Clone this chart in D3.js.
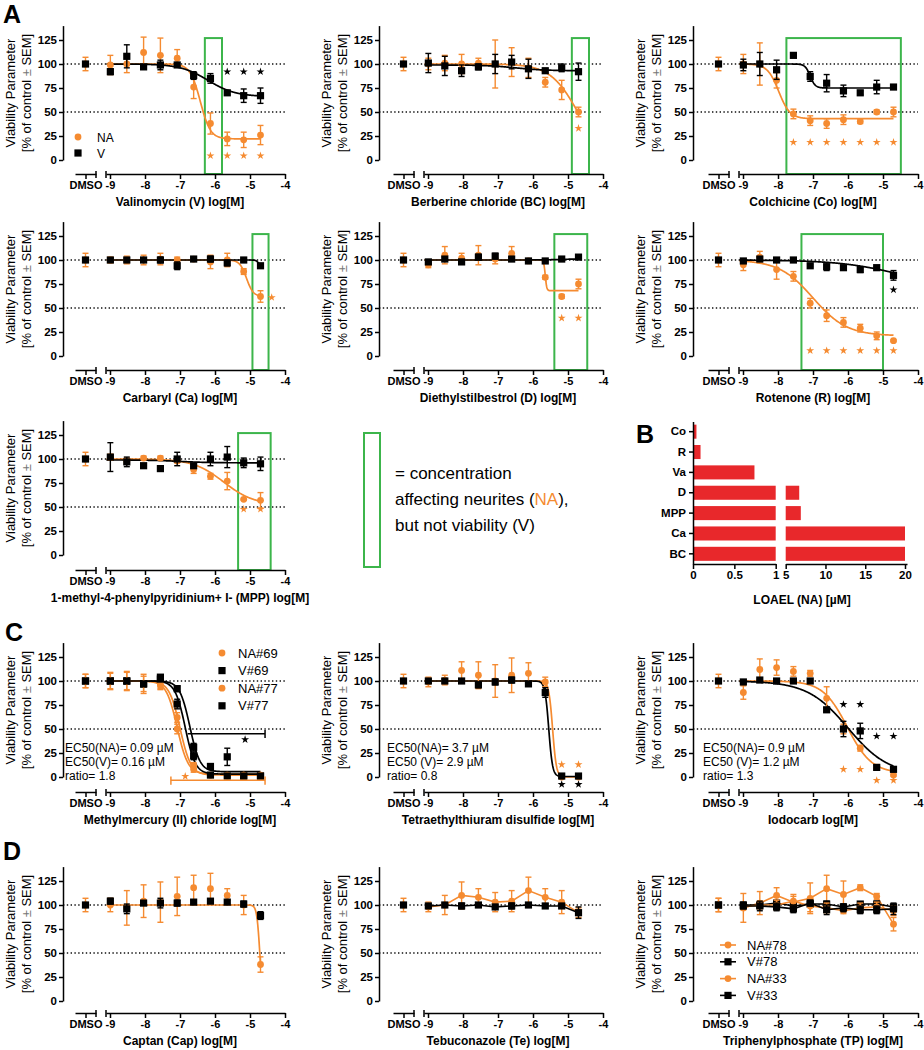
<!DOCTYPE html>
<html>
<head>
<meta charset="utf-8">
<script src="https://cdn.jsdelivr.net/npm/d3@7"></script>
<style>
  body { margin: 0; background: #fff; }
  svg { display: block; font-family: "Liberation Sans", Arial, Helvetica, sans-serif; }
</style>
</head>
<body>
<svg id="chart" width="924" height="1050"></svg>
<script>
const orange = "#f58b31", green = "#3cb54b", red = "#e8282b";

// log[M] of the ten test concentrations (3-fold steps down from 20 µM)
const concLog = [-8.99, -8.52, -8.04, -7.56, -7.08, -6.61, -6.13, -5.65, -5.18, -4.70];
const xTicks = [-9, -8, -7, -6, -5, -4];
const yTicks = [0, 25, 50, 75, 100, 125];

// fit parameters are [top, bottom, logEC50, hill]
// --- A: valinomycin
const vaNA = [99, 100, 112, 109, 106, 76, 38, 22, 21, 26];
const vaNAerr = [10, 9, 16, 18, 9, 12, 11, 7, 8, 10];
const vaV = [92, 108, 97, 99, 99, 88, 85, 70, 67, 67];
const vaVerr = [3, 12, 2, 5, 2, 4, 5, 2, 7, 8];
const vaFitNA = [100, 22, -6.42, 3], vaFitV = [100, 66, -6.2, 1.1];
const vaStarNA = [-6.13, -5.65, -5.18, -4.70], vaStarV = [-5.65, -5.18, -4.70];
const vaBox = [-6.29, -5.8];

// --- A: berberine chloride
const bcNA = [100, 101, 100, 101, 100, 102, 96, 81, 73, 50];
const bcNAerr = [6, 8, 10, 5, 25, 15, 10, 5, 10, 5];
const bcV = [101, 98, 93, 97, 100, 102, 95, 93, 96, 92];
const bcVerr = [10, 10, 6, 3, 10, 7, 10, 2, 4, 9];
const bcFitNA = [100, 0, -4.72, 1.1], bcFitV = [99, 93, -6.5, 1];
const bcStarNA = [-4.70];
const bcBox = [-4.89, -4.4];

// --- A: colchicine
const coNA = [100, 100, 83, 48, 41, 38, 42, 40, 50, 50];
const coNAerr = [10, 22, 8, 5, 5, 5, 5, 2, 2, 5];
const coV = [99, 100, 94, 109, 87, 80, 72, 70, 76, 76];
const coVerr = [6, 12, 10, 2, 5, 9, 6, 2, 7, 2];
const coFitNA = [100, 43, -7.98, 2.7], coFitV = [100, 75, -7.08, 6];
const coStarNA = [-7.56, -7.08, -6.61, -6.13, -5.65, -5.18, -4.70];
const coBox = [-7.76, -4.49];

// --- A: carbaryl
const caNA = [100, 100, 100, 101, 100, 101, 98, 100, 88, 62];
const caNAerr = [3, 4, 5, 6, 3, 2, 7, 7, 3, 6];
const caV = [100, 100, 100, 100, 94, 101, 101, 97, 100, 94];
const caVerr = [2, 2, 2, 3, 4, 2, 3, 3, 1, 2];
const caFitNA = [100, 62, -5.1, 4.5], caFitV = [100, 94, -4.76, 12];
const caStarNA = [-4.38];
const caBox = [-4.93, -4.47];

// --- A: diethylstilbestrol
const dNA = [95, 105, 102, 105, 101, 107, 99, 82, 62, 75];
const dNAerr = [3, 9, 5, 10, 5, 7, 2, 2, 2, 5];
const dV = [98, 101, 98, 103, 104, 101, 99, 99, 101, 103];
const dVerr = [2, 2, 2, 3, 3, 2, 1, 1, 1, 1];
const dFitNA = [100, 68, -5.65, 20], dFitV = [100, 101, -5.3, 2];
const dStarNA = [-5.18, -4.70];
const dBox = [-5.39, -4.45];

// --- A: rotenone
const rNA = [95, 103, 90, 83, 55, 42, 35, 29, 21, 16];
const rNAerr = [6, 6, 10, 5, 5, 6, 5, 4, 4, 1];
const rV = [99, 101, 100, 100, 94, 93, 92, 90, 92, 84];
const rVerr = [1, 2, 2, 1, 1, 4, 1, 3, 1, 5];
const rFitNA = [100, 21, -7.0, 0.9], rFitV = [100, 70, -4.5, 0.5];
const rStarNA = [-7.08, -6.61, -6.13, -5.65, -5.18, -4.70], rStarV = [-4.70];
const rBox = [-7.33, -5.0];

// --- A: MPP+
const mppNA = [102, 98, 101, 101, 98, 89, 82, 77, 58, 57];
const mppNAerr = [3, 3, 2, 2, 2, 4, 3, 9, 1, 8];
const mppV = [102, 97, 93, 90, 100, 93, 100, 102, 96, 95];
const mppVerr = [15, 5, 1, 2, 7, 1, 7, 11, 5, 7];
const mppFitNA = [100, 52, -5.75, 1], mppFitV = [99, 96, -7, 1];
const mppStarNA = [-5.18, -4.70];
const mppBox = [-5.34, -4.41];

// --- B: LOAEL (NA)
const loaelNames = ["Co", "R", "Va", "D", "MPP", "Ca", "BC"];
const loaelValues = [0.03, 0.08, 0.74, 6.7, 6.9, 20, 20];

// --- C: methylmercury(II) chloride
const mhNA69 = [100, 100, 97, 97, 62, 12, 2, 1, 2, 2];
const mhNA69err = [9, 10, 10, 5, 5, 3, 1, 1, 1, 1];
const mhV69 = [100, 100, 97, 104, 92, 31, 11, 21, 1, 1];
const mhV69err = [3, 3, 3, 2, 3, 4, 2, 9, 1, 1];
const mhNA77 = [100, 100, 97, 95, 50, 8, 2, 2, 2, 2];
const mhNA77err = [8, 9, 8, 4, 5, 3, 1, 1, 1, 1];
const mhV77 = [100, 100, 97, 102, 76, 22, 2, 1, 1, 1];
const mhV77err = [2, 2, 2, 2, 5, 4, 1, 1, 1, 1];
const mhFitNA69 = [100, 2, -7.0, 2.8], mhFitNA77 = [100, 3, -7.08, 2.8];
const mhFitV69 = [100, 5.5, -6.72, 3], mhFitV77 = [100, 3, -6.85, 3];

// --- C: tetraethylthiuram disulfide
const teNA = [99, 101, 111, 106, 100, 106, 108, 99, 0, 0];
const teNAerr = [5, 5, 9, 14, 17, 18, 11, 5, 1, 1];
const teV = [100, 100, 100, 96, 99, 101, 97, 88, 1, 1];
const teVerr = [2, 2, 1, 3, 3, 3, 2, 5, 1, 1];
const teFitNA = [100, 0, -5.44, 8], teFitV = [100, 0.5, -5.55, 8];
const teStar = [-5.18, -4.70];

// --- C: iodocarb
const ioNA = [88, 112, 114, 110, 108, 82, 50, 30, 10, 2];
const ioNAerr = [7, 11, 8, 5, 3, 12, 5, 3, 3, 1];
const ioV = [99, 101, 100, 100, 100, 70, 50, 48, 10, 8];
const ioVerr = [1, 1, 1, 1, 2, 2, 8, 8, 2, 2];
const ioFitNA = [100, 4, -6.02, 1.25], ioFitV = [100, 2, -6.0, 0.75];
const ioStarA = [-6.13, -5.65], ioStarB = [-5.18, -4.70];

// --- D: captan
const capNA = [100, 97, 104, 103, 109, 118, 117, 110, 100, 38];
const capNAerr = [7, 18, 17, 21, 20, 13, 16, 7, 10, 8];
const capV = [104, 96, 102, 102, 102, 103, 104, 103, 101, 89];
const capVerr = [3, 5, 2, 5, 3, 2, 2, 2, 3, 4];
const capFitNA = [100, 0, -4.72, 10];

// --- D: tebuconazole
const tebNA = [98, 100, 110, 108, 103, 104, 115, 108, 103, 92];
const tebNAerr = [5, 10, 14, 9, 10, 11, 14, 9, 12, 5];
const tebV = [99, 100, 99, 100, 98, 99, 100, 99, 99, 92];
const tebVerr = [2, 2, 3, 2, 2, 3, 2, 2, 2, 6];

// --- D: triphenylphosphate
const tpNA78 = [97, 102, 110, 103, 107, 117, 111, 118, 109, 80];
const tpNA78err = [15, 12, 8, 8, 16, 14, 14, 3, 3, 7];
const tpV78 = [100, 100, 102, 99, 101, 101, 98, 101, 101, 98];
const tpV78err = [3, 3, 2, 3, 2, 3, 3, 2, 3, 3];
const tpNA33 = [98, 100, 100, 104, 99, 97, 94, 97, 98, 94];
const tpNA33err = [3, 4, 5, 5, 6, 5, 3, 5, 5, 5];
const tpV33 = [99, 99, 98, 96, 102, 95, 97, 95, 95, 96];
const tpV33err = [3, 5, 4, 4, 3, 5, 4, 4, 4, 6];

const svg = d3.select("#chart");

const cols = [{axisX: 63, ox: 110}, {axisX: 379, ox: 428}, {axisX: 693, ox: 743}];
const rows = [{y0: 160, axisY: 174}, {y0: 356, axisY: 370}, {y0: 555, axisY: 570},
              {y0: 777, axisY: 792}, {y0: 1001, axisY: 1013}];
const fitGrid = d3.range(-9.1, -4.695, 0.01);

function fourPL(p, lx) {
  return p[1] + (p[0] - p[1]) / (1 + Math.pow(10, (lx - p[2]) * p[3]));
}

function marker(g, shape, cx, cy, color) {
  if (shape === "sq")
    g.append("rect").attr("x", cx - 3.6).attr("y", cy - 3.6).attr("width", 7.2).attr("height", 7.2).attr("fill", color);
  else
    g.append("circle").attr("cx", cx).attr("cy", cy).attr("r", 3.4).attr("fill", color);
}

function styleAxis(a, size) {
  a.attr("font-family", null).attr("font-size", size).attr("font-weight", "bold");
  a.selectAll(".domain, .tick line").attr("stroke", "#000").attr("stroke-width", 1.5);
  a.selectAll("text").attr("fill", "#000");
}

function nA(v, e, fit) { return {v, e, fit, color: orange, shape: "ci", dmsoErr: 7}; }
function nV(v, e, fit) { return {v, e, fit, color: "#000", shape: "sq", dmsoErr: 2}; }

function drawPanel(p) {
  const c = cols[p.col], r = rows[p.row];
  const x = d3.scaleLinear().domain([-9, -4]).range([c.ox, c.ox + 175]);
  const y = d3.scaleLinear().domain([0, 140]).range([r.y0, r.y0 - 134.4]);
  const xDmso = d3.scalePoint().domain(["DMSO"]).range([c.ox - 35, c.ox - 14]).padding(0.5);
  const g = svg.append("g");

  g.selectAll("line.ref").data([100, 50]).join("line")
    .attr("x1", c.axisX).attr("x2", x(-4))
    .attr("y1", d => y(d)).attr("y2", d => y(d))
    .attr("stroke", "#111").attr("stroke-width", 1.4).attr("stroke-dasharray", "1.4,2.4");

  if (p.box) g.append("rect")
    .attr("x", x(p.box[0])).attr("width", x(p.box[1]) - x(p.box[0]))
    .attr("y", y(127)).attr("height", r.axisY - y(127))
    .attr("fill", "none").attr("stroke", green).attr("stroke-width", 2);

  const yAxis = g.append("g").attr("transform", `translate(${c.axisX},0)`)
    .call(d3.axisLeft(y).tickValues(yTicks).tickSize(4).tickPadding(2).tickSizeOuter(0));
  styleAxis(yAxis, 11.5);
  const xMain = x.copy().domain([x.invert(c.ox - 4), -4]).range([c.ox - 4, x(-4)]);
  const xAxis = g.append("g").attr("transform", `translate(0,${r.axisY})`)
    .call(d3.axisBottom(xMain).tickValues(xTicks).tickFormat(d => String(d)).tickSize(5).tickPadding(2).tickSizeOuter(0));
  styleAxis(xAxis, 11);
  const dAxis = g.append("g").attr("transform", `translate(0,${r.axisY})`)
    .call(d3.axisBottom(xDmso).tickSize(5).tickPadding(2).tickSizeOuter(0));
  styleAxis(dAxis, 11);
  [c.ox - 14, c.ox - 4].forEach(bx => g.append("line")
    .attr("x1", bx).attr("x2", bx).attr("y1", r.axisY - 3).attr("y2", r.axisY + 4)
    .attr("stroke", "#000").attr("stroke-width", 1.5));

  g.append("text").attr("x", c.ox + 70).attr("y", r.axisY + 32)
    .attr("text-anchor", "middle").attr("font-size", 12).attr("font-weight", "bold").text(p.title);

  const yt = g.append("g").attr("font-size", 13).attr("text-anchor", "middle");
  yt.append("text").attr("transform", `translate(${c.axisX - 48},${r.y0 - 67}) rotate(-90)`).text("Viability Parameter");
  const t2 = yt.append("text").attr("transform", `translate(${c.axisX - 32},${r.y0 - 67}) rotate(-90)`);
  t2.append("tspan").text("[% of control ");
  t2.append("tspan").attr("fill", "#777").text("±");
  t2.append("tspan").text(" SEM]");

  // fitted curves / connecting lines
  p.series.forEach(s => {
    if (s.fit) g.append("path").datum(fitGrid)
      .attr("d", d3.line().x(d => x(d)).y(d => y(fourPL(s.fit, d))))
      .attr("fill", "none").attr("stroke", s.color).attr("stroke-width", 1.7);
    if (p.joined) g.append("path").datum(concLog.map((lx, i) => [lx, s.v[i]]))
      .attr("d", d3.line().x(d => x(d[0])).y(d => y(d[1])))
      .attr("fill", "none").attr("stroke", s.color).attr("stroke-width", 1.6);
  });

  // error bars and points
  p.series.forEach(s => {
    const pts = [{px: xDmso("DMSO"), v: 100, e: s.dmsoErr}]
      .concat(concLog.map((lx, i) => ({px: x(lx), v: s.v[i], e: s.e[i]})));
    const eb = g.append("g").attr("stroke", s.color).attr("stroke-width", 1.4);
    pts.forEach(d => {
      eb.append("line").attr("x1", d.px).attr("x2", d.px).attr("y1", y(d.v - d.e)).attr("y2", y(d.v + d.e));
      [d.v - d.e, d.v + d.e].forEach(v => eb.append("line")
        .attr("x1", d.px - 3).attr("x2", d.px + 3).attr("y1", y(v)).attr("y2", y(v)));
      marker(g, s.shape, d.px, y(d.v), s.color);
    });
  });

  (p.stars || []).forEach(st => {
    g.selectAll(null).data(st.at).join("path")
      .attr("transform", d => `translate(${x(d)},${y(st.y)})`)
      .attr("d", d3.symbol(d3.symbolStar, 20)())
      .attr("fill", st.color);
  });

  (p.brackets || []).forEach(b => {
    const bg = g.append("g").attr("stroke", b.color).attr("stroke-width", 1.5);
    bg.append("line").attr("x1", x(b.from)).attr("x2", x(b.to)).attr("y1", y(b.at)).attr("y2", y(b.at));
    b.caps.forEach(cx => bg.append("line").attr("x1", x(cx)).attr("x2", x(cx))
      .attr("y1", y(b.at + 4)).attr("y2", y(b.at - 4.5)));
  });

  if (p.ec50) p.ec50.forEach((t, i) => g.append("text")
    .attr("x", c.axisX + p.ec50x).attr("y", r.y0 - 25 + i * 14).attr("font-size", 12).text(t));

  if (p.legend) p.legend.forEach((it, i) => {
    const ly = p.legendY + i * p.legendStep;
    if (p.joined) g.append("line").attr("x1", p.legendX - 8).attr("x2", p.legendX + 8)
      .attr("y1", ly).attr("y2", ly).attr("stroke", it.color).attr("stroke-width", 1.6);
    marker(g, it.shape, p.legendX, ly, it.color);
    g.append("text").attr("x", p.legendX + p.legendGap).attr("y", ly + 4.5)
      .attr("font-size", p.legendFont).text(it.label);
  });
}

const panels = [
  {col: 0, row: 0, title: "Valinomycin (V) log[M]",
   series: [nA(vaNA, vaNAerr, vaFitNA), nV(vaV, vaVerr, vaFitV)], box: vaBox,
   stars: [{at: vaStarNA, y: 4.5, color: orange}, {at: vaStarV, y: 92, color: "#000"}],
   legend: [{label: "NA", shape: "ci", color: orange}, {label: "V", shape: "sq", color: "#000"}],
   legendX: 78, legendY: 137, legendStep: 16, legendGap: 19, legendFont: 12},
  {col: 1, row: 0, title: "Berberine chloride (BC) log[M]",
   series: [nA(bcNA, bcNAerr, bcFitNA), nV(bcV, bcVerr, bcFitV)], box: bcBox,
   stars: [{at: bcStarNA, y: 33, color: orange}]},
  {col: 2, row: 0, title: "Colchicine (Co) log[M]",
   series: [nA(coNA, coNAerr, coFitNA), nV(coV, coVerr, coFitV)], box: coBox,
   stars: [{at: coStarNA, y: 18.5, color: orange}]},
  {col: 0, row: 1, title: "Carbaryl (Ca) log[M]",
   series: [nA(caNA, caNAerr, caFitNA), nV(caV, caVerr, caFitV)], box: caBox,
   stars: [{at: caStarNA, y: 61, color: orange}]},
  {col: 1, row: 1, title: "Diethylstilbestrol (D) log[M]",
   series: [nA(dNA, dNAerr, dFitNA), nV(dV, dVerr, dFitV)], box: dBox,
   stars: [{at: dStarNA, y: 39.5, color: orange}]},
  {col: 2, row: 1, title: "Rotenone (R) log[M]",
   series: [nA(rNA, rNAerr, rFitNA), nV(rV, rVerr, rFitV)], box: rBox,
   stars: [{at: rStarNA, y: 5.6, color: orange}, {at: rStarV, y: 69, color: "#000"}]},
  {col: 0, row: 2, title: "1-methyl-4-phenylpyridinium+ I- (MPP) log[M]",
   series: [nA(mppNA, mppNAerr, mppFitNA), nV(mppV, mppVerr, mppFitV)], box: mppBox,
   stars: [{at: mppStarNA, y: 47.7, color: orange}]},
  {col: 0, row: 3, title: "Methylmercury (II) chloride log[M]",
   series: [nA(mhNA69, mhNA69err, mhFitNA69), nV(mhV69, mhV69err, mhFitV69),
            nA(mhNA77, mhNA77err, mhFitNA77), nV(mhV77, mhV77err, mhFitV77)],
   stars: [{at: [-5.14], y: 39, color: "#000"}, {at: [-6.85], y: 0.7, color: orange}],
   brackets: [{from: -6.78, to: -4.57, at: 45, caps: [-4.57], color: "#000"},
              {from: -7.26, to: -4.57, at: -3.5, caps: [-7.26, -4.57], color: orange}],
   ec50: ["EC50(NA)= 0.09 µM", "EC50(V)= 0.16 µM", "ratio= 1.8"], ec50x: 2,
   legend: [{label: "NA#69", shape: "ci", color: orange}, {label: "V#69", shape: "sq", color: "#000"},
            {label: "NA#77", shape: "ci", color: orange}, {label: "V#77", shape: "sq", color: "#000"}],
   legendX: 222, legendY: 653, legendStep: 17.6, legendGap: 16, legendFont: 13},
  {col: 1, row: 3, title: "Tetraethylthiuram disulfide log[M]",
   series: [nA(teNA, teNAerr, teFitNA), nV(teV, teVerr, teFitV)],
   stars: [{at: teStar, y: 13, color: orange}, {at: teStar, y: -7.7, color: "#000"}],
   ec50: ["EC50(NA)= 3.7 µM", "EC50 (V)= 2.9 µM", "ratio= 0.8"], ec50x: 8},
  {col: 2, row: 3, title: "Iodocarb log[M]",
   series: [nA(ioNA, ioNAerr, ioFitNA), nV(ioV, ioVerr, ioFitV)],
   stars: [{at: ioStarA, y: 75.6, color: "#000"}, {at: ioStarB, y: 42.5, color: "#000"},
           {at: ioStarA, y: 8, color: orange}, {at: ioStarB, y: -3.5, color: orange}],
   ec50: ["EC50(NA)= 0.9 µM", "EC50 (V)= 1.2 µM", "ratio= 1.3"], ec50x: 10},
  {col: 0, row: 4, title: "Captan (Cap) log[M]",
   series: [nA(capNA, capNAerr, capFitNA), nV(capV, capVerr, null)]},
  {col: 1, row: 4, title: "Tebuconazole (Te) log[M]", joined: true,
   series: [nA(tebNA, tebNAerr, null), nV(tebV, tebVerr, null)]},
  {col: 2, row: 4, title: "Triphenylphosphate (TP) log[M]", joined: true,
   series: [nA(tpNA78, tpNA78err, null), nV(tpV78, tpV78err, null),
            nA(tpNA33, tpNA33err, null), nV(tpV33, tpV33err, null)],
   legend: [{label: "NA#78", shape: "ci", color: orange}, {label: "V#78", shape: "sq", color: "#000"},
            {label: "NA#33", shape: "ci", color: orange}, {label: "V#33", shape: "sq", color: "#000"}],
   legendX: 728, legendY: 945, legendStep: 16.8, legendGap: 19, legendFont: 13}
];
panels.forEach(drawPanel);

// green box legend
const lg = svg.append("g");
lg.append("rect").attr("x", 364).attr("y", 433).attr("width", 16).attr("height", 134)
  .attr("fill", "none").attr("stroke", green).attr("stroke-width", 2);
const lt = lg.append("g").attr("font-size", 17);
lt.append("text").attr("x", 395).attr("y", 479).text("= concentration");
const l2 = lt.append("text").attr("x", 395).attr("y", 505);
l2.append("tspan").text("affecting neurites (");
l2.append("tspan").attr("fill", orange).text("NA");
l2.append("tspan").text("),");
lt.append("text").attr("x", 395).attr("y", 531).text("but not viability (V)");

// panel B: LOAEL bars with a broken x axis
const gB = svg.append("g");
const yB = d3.scaleBand().domain(loaelNames).range([421.5, 564]).paddingInner(0.31).paddingOuter(0.155);
const xB1 = d3.scaleLinear().domain([0, 1]).range([694, 775.7]);
const xB2 = d3.scaleLinear().domain([5, 20]).range([785.7, 905]);
loaelNames.forEach((n, i) => {
  const v = loaelValues[i];
  gB.append("rect").attr("x", xB1(0)).attr("y", yB(n)).attr("height", yB.bandwidth())
    .attr("width", xB1(Math.min(v, 1)) - xB1(0)).attr("fill", red);
  if (v > 5) gB.append("rect").attr("x", xB2(5)).attr("y", yB(n)).attr("height", yB.bandwidth())
    .attr("width", xB2(v) - xB2(5)).attr("fill", red);
});
const byAxis = gB.append("g").attr("transform", "translate(693,0)")
  .call(d3.axisLeft(yB).tickSize(4).tickPadding(3).tickSizeOuter(0));
styleAxis(byAxis, 11.5);
const bx1 = gB.append("g").attr("transform", "translate(0,564)")
  .call(d3.axisBottom(xB1.copy().range([693, 775.7])).tickValues([0, 0.5, 1]).tickFormat(d3.format("")).tickSize(5).tickPadding(2).tickSizeOuter(0));
styleAxis(bx1, 11.5);
const bx2 = gB.append("g").attr("transform", "translate(0,564)")
  .call(d3.axisBottom(xB2.copy().domain([5, xB2.invert(907)]).range([785.7, 907])).tickValues([5, 10, 15, 20]).tickSize(5).tickPadding(2).tickSizeOuter(0));
styleAxis(bx2, 11.5);
gB.append("text").attr("x", 802).attr("y", 604).attr("text-anchor", "middle")
  .attr("font-size", 12).attr("font-weight", "bold").text("LOAEL (NA) [µM]");

// panel letters
[["A", 3, 23], ["B", 636, 443], ["C", 5, 641], ["D", 3, 860]].forEach(([t, lx, ly]) =>
  svg.append("text").attr("x", lx).attr("y", ly).attr("font-size", 25).attr("font-weight", "bold").text(t));
</script>
</body>
</html>
